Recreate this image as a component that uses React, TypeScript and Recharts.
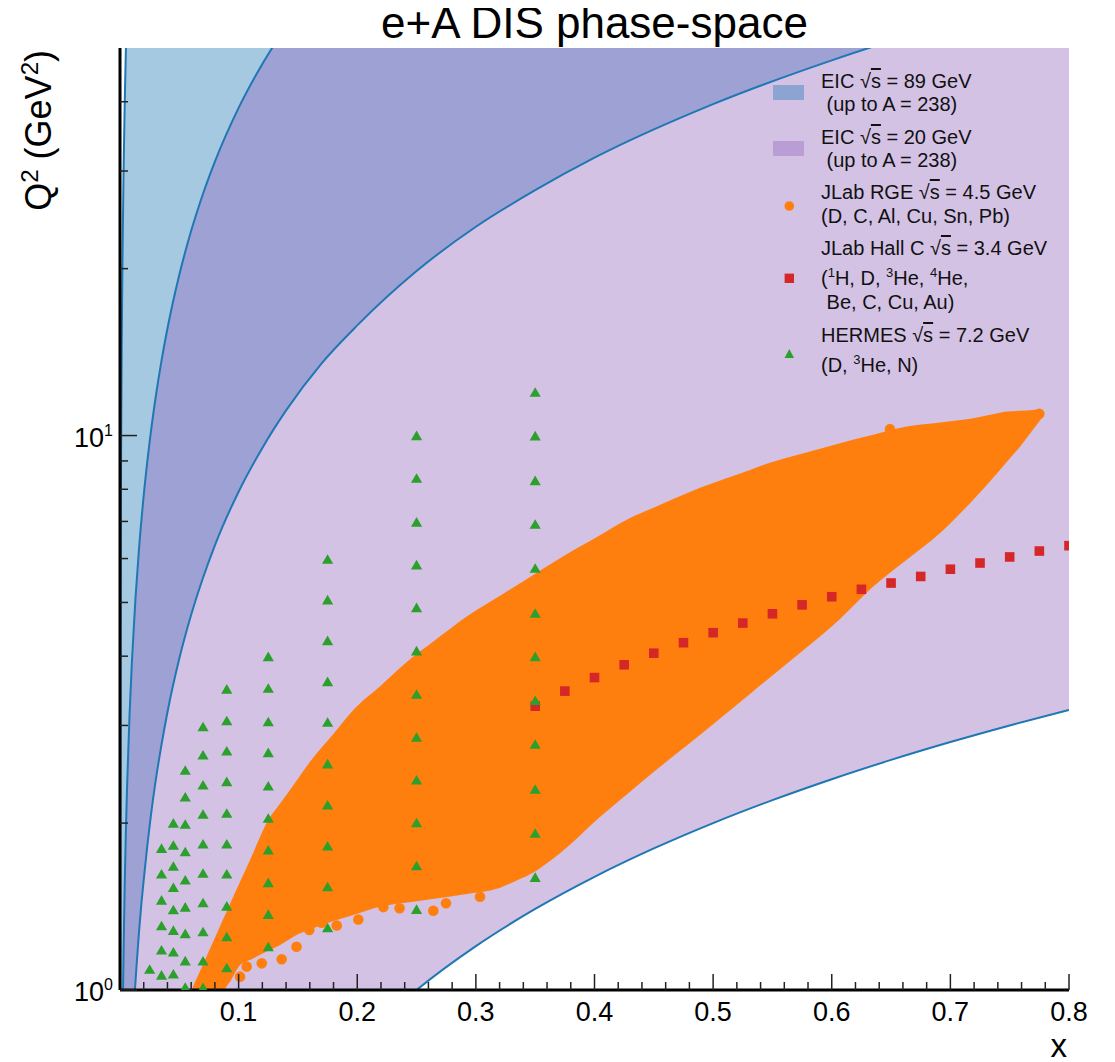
import React from 'react';
import { ComposedChart, Area, Scatter, XAxis, YAxis, Legend } from 'recharts';

const FONT = '"Liberation Sans", Arial, Helvetica, sans-serif';
const W = 1107;
const H = 1054;

// ---------- axis ticks ----------
const X_TICKS = [0.02, 0.04, 0.06, 0.08, 0.1, 0.12, 0.14, 0.16, 0.18, 0.2, 0.22, 0.24, 0.26, 0.28, 0.3, 0.32, 0.34, 0.36, 0.38, 0.4, 0.42, 0.44, 0.46, 0.48, 0.5, 0.52, 0.54, 0.56, 0.58, 0.6, 0.62, 0.64, 0.66, 0.68, 0.7, 0.72, 0.74, 0.76, 0.78, 0.8];
const X_LABELS = ['0.1', '0.2', '0.3', '0.4', '0.5', '0.6', '0.7', '0.8'];
const Y_TICKS = [1, 2, 3, 4, 5, 6, 7, 8, 9, 10, 20, 30, 40];
const Y_MAJOR = [1, 10];
const Y_EXP = ['0', '1'];

// ---------- EIC sqrt(s)=89 GeV region (x, lower Q2, upper Q2) ----------
const EIC89_X = [0.0001, 0.0002, 0.0005, 0.001, 0.0015, 0.002, 0.003, 0.004, 0.005, 0.006, 0.008, 0.0126, 0.014, 0.016, 0.018, 0.02, 0.023, 0.026, 0.03, 0.035, 0.04, 0.05, 0.06, 0.07, 0.08, 0.1, 0.12, 0.14, 0.17, 0.2, 0.25, 0.3, 0.35, 0.4, 0.5, 0.6, 0.65, 0.7, 0.8];
const EIC89_LO = [0.0079, 0.0158, 0.0396, 0.0792, 0.119, 0.158, 0.238, 0.317, 0.396, 0.475, 0.634, 1.0, 1.11, 1.27, 1.43, 1.58, 1.82, 2.06, 2.38, 2.77, 3.17, 3.96, 4.75, 5.54, 6.34, 7.92, 9.5, 11.1, 13.5, 15.8, 19.8, 23.8, 27.7, 31.7, 39.6, 47.5, 51.5, 55.4, 63.4];
const EIC89_HI = [1.0, 2.0, 5.0, 10, 15, 20, 30, 40, 50, 60, 80, 126, 140, 160, 180, 200, 230, 260, 300, 350, 400, 500, 600, 700, 800, 1000, 1200, 1400, 1700, 2000, 2500, 3000, 3500, 4000, 5000, 6000, 6500, 7000, 8000];

// ---------- EIC sqrt(s)=20 GeV region ----------
const EIC20_X = [0.0025, 0.003, 0.004, 0.005, 0.006, 0.008, 0.01, 0.013, 0.016, 0.02, 0.025, 0.03, 0.035, 0.04, 0.05, 0.06, 0.07, 0.08, 0.1, 0.115, 0.13, 0.15, 0.2, 0.25, 0.3, 0.35, 0.4, 0.45, 0.5, 0.55, 0.6, 0.65, 0.7, 0.75, 0.8];
const EIC20_LO = [0.01, 0.012, 0.016, 0.02, 0.024, 0.032, 0.04, 0.052, 0.064, 0.08, 0.1, 0.12, 0.14, 0.16, 0.2, 0.24, 0.28, 0.32, 0.4, 0.46, 0.52, 0.6, 0.8, 1.0, 1.2, 1.4, 1.6, 1.8, 2.0, 2.2, 2.4, 2.6, 2.8, 3.0, 3.2];
const EIC20_HI = [0.975, 1.17, 1.56, 1.95, 2.34, 3.12, 3.9, 5.07, 6.24, 7.8, 9.75, 11.7, 13.65, 15.6, 19.5, 23.4, 27.3, 31.2, 39, 44.85, 50.7, 58.5, 78, 97.5, 117, 136.5, 156, 175.5, 195, 214.5, 234, 253.5, 273, 292.5, 312];

// ---------- JLab RGE coverage (outline of the dense point cloud) ----------
const RGE_X = [0.058, 0.0604, 0.07, 0.08, 0.086, 0.0942, 0.1012, 0.11, 0.125, 0.135, 0.15, 0.16, 0.18, 0.1967, 0.22, 0.2473, 0.265, 0.2923, 0.32, 0.3372, 0.343, 0.3709, 0.4046, 0.43, 0.4468, 0.4889, 0.5311, 0.5479, 0.5732, 0.607, 0.635, 0.6632, 0.6913, 0.7193, 0.7418, 0.7475, 0.7587, 0.7696, 0.7728, 0.7783];
const RGE_LO = [0.9, 0.9, 0.9, 0.9, 0.98, 1.048, 1.109, 1.134, 1.177, 1.206, 1.26, 1.286, 1.332, 1.366, 1.415, 1.443, 1.46, 1.49, 1.528, 1.586, 1.606, 1.765, 2.051, 2.279, 2.443, 2.884, 3.42, 3.662, 4.055, 4.67, 5.34, 5.97, 6.67, 7.66, 8.67, 8.96, 9.55, 10.24, 10.46, 10.85];
const RGE_HI = [0.97, 1.0, 1.112, 1.242, 1.327, 1.453, 1.567, 1.723, 2.026, 2.17, 2.405, 2.578, 2.898, 3.2, 3.543, 3.994, 4.264, 4.716, 5.136, 5.416, 5.514, 6.009, 6.61, 7.1, 7.36, 8.05, 8.67, 8.93, 9.25, 9.69, 10.03, 10.38, 10.56, 10.75, 10.99, 11.05, 11.08, 11.12, 11.13, 10.85];
// isolated RGE points at the edges of the cloud
const RGE_DOT_X = [0.0894, 0.1012, 0.1068, 0.1195, 0.1363, 0.1488, 0.1596, 0.17, 0.1827, 0.2009, 0.222, 0.2357, 0.2641, 0.2748, 0.3035, 0.6491, 0.775];
const RGE_DOT_Q2 = [1.05, 1.057, 1.102, 1.117, 1.136, 1.197, 1.283, 1.322, 1.307, 1.34, 1.411, 1.404, 1.39, 1.434, 1.473, 10.27, 10.95];

// ---------- JLab Hall C ----------
const HALLC_X = [0.35, 0.375, 0.4, 0.425, 0.45, 0.475, 0.5, 0.525, 0.55, 0.575, 0.6, 0.625, 0.65, 0.675, 0.7, 0.725, 0.75, 0.775, 0.8];
const HALLC_Q2 = [3.25, 3.46, 3.66, 3.86, 4.05, 4.23, 4.41, 4.59, 4.77, 4.95, 5.12, 5.28, 5.42, 5.57, 5.74, 5.89, 6.04, 6.19, 6.33];

// ---------- HERMES ----------
const HERMES_X = [0.025, 0.035, 0.045, 0.055, 0.07, 0.09, 0.125, 0.175, 0.25, 0.35];
const HERMES_Q2 = [
  [1.09],
  [1.801, 1.619, 1.453, 1.306, 1.181, 1.064],
  [2.0, 1.824, 1.672, 1.531, 1.396, 1.281, 1.171, 1.069],
  [2.491, 2.23, 1.991, 1.776, 1.579, 1.411, 1.264, 1.129, 1.012],
  [2.985, 2.655, 2.343, 2.075, 1.834, 1.624, 1.437, 1.274, 1.128, 1.01],
  [3.49, 3.06, 2.699, 2.376, 2.084, 1.834, 1.619, 1.417, 1.248, 1.097],
  [3.994, 3.502, 3.048, 2.68, 2.334, 2.041, 1.789, 1.562, 1.369, 1.197],
  [5.984, 5.054, 4.268, 3.599, 3.04, 2.558, 2.157, 1.819, 1.536, 1.295],
  [10.0, 8.378, 6.98, 5.846, 4.895, 4.09, 3.416, 2.857, 2.392, 2.003, 1.676, 1.398],
  [11.97, 9.99, 8.295, 6.92, 5.766, 4.782, 3.994, 3.329, 2.776, 2.302, 1.918, 1.597],
];

// ---------- derived tables ----------
const band = (xs: number[], lo: number[], hi: number[]) => xs.map((x, i) => ({ x, band: [lo[i], hi[i]] }));
const eic89Data = band(EIC89_X, EIC89_LO, EIC89_HI);
const eic20Data = band(EIC20_X, EIC20_LO, EIC20_HI);
const rgeData = band(RGE_X, RGE_LO, RGE_HI);
const rgeDots = RGE_DOT_X.map((x, i) => ({ x, y: RGE_DOT_Q2[i] }));
const hallCData = HALLC_X.map((x, i) => ({ x, y: HALLC_Q2[i] }));
const hermesData = HERMES_X.flatMap((x, i) => HERMES_Q2[i].map((q) => ({ x, y: q })));

const C_BLUE = '#1f77b4';
const C_PURPLE = '#9467bd';
const C_ORANGE = '#ff7f0e';
const C_RED = '#d62728';
const C_GREEN = '#2ca02c';
const TICK_COLOR = '#222';

const isMajorX = (v: number) => Math.abs(v * 10 - Math.round(v * 10)) < 1e-6;

const BottomTick = (props: any) => {
  const { x, y, payload } = props;
  const v = payload.value;
  const major = isMajorX(v);
  const idx = Math.round(v * 10) - 1;
  return (
    <g>
      <line x1={x} y1={y} x2={x} y2={y - (major ? 16 : 8)} stroke={TICK_COLOR} strokeWidth={1.5} />
      {major && (
        <text x={x} y={y + 31} textAnchor="middle" fontSize={27} fontFamily={FONT} fill="#000">
          {X_LABELS[idx]}
        </text>
      )}
    </g>
  );
};

const TopTick = (props: any) => {
  const { x, y, payload } = props;
  const major = isMajorX(payload.value);
  return <line x1={x} y1={y} x2={x} y2={y + (major ? 16 : 8)} stroke={TICK_COLOR} strokeWidth={1.5} />;
};

const LeftTick = (props: any) => {
  const { x, y, payload } = props;
  const v = payload.value;
  const mi = Y_MAJOR.indexOf(v);
  const major = mi >= 0;
  return (
    <g>
      <line x1={x} y1={y} x2={x + (major ? 17 : 8)} y2={y} stroke={TICK_COLOR} strokeWidth={1.5} />
      {major && (
        <text x={x - 7} y={y + 11} textAnchor="end" fontSize={27} fontFamily={FONT} fill="#000">
          <tspan>10</tspan>
          <tspan fontSize={16} dy={-11}>{Y_EXP[mi]}</tspan>
        </text>
      )}
    </g>
  );
};

const RightTick = (props: any) => {
  const { x, y, payload } = props;
  const major = Y_MAJOR.indexOf(payload.value) >= 0;
  return <line x1={x} y1={y} x2={x - (major ? 17 : 8)} y2={y} stroke={TICK_COLOR} strokeWidth={1.5} />;
};

const OrangeDot = (p: any) => <circle cx={p.cx} cy={p.cy} r={5.3} fill={C_ORANGE} />;
const RedSquare = (p: any) => <rect x={p.cx - 4.8} y={p.cy - 4.8} width={9.6} height={9.6} fill={C_RED} />;
const GreenTri = (p: any) => (
  <polygon points={`${p.cx},${p.cy - 5} ${p.cx - 5.6},${p.cy + 4.6} ${p.cx + 5.6},${p.cy + 4.6}`} fill={C_GREEN} />
);

// ---------- legend (HTML, absolutely placed inside the plot) ----------
const LFS = 20;
const Row = ({ x, base, children }: { x: number; base: number; children: React.ReactNode }) => (
  <div
    style={{
      position: 'absolute',
      left: x,
      top: base - 16.9,
      fontSize: LFS,
      lineHeight: '20px',
      fontFamily: FONT,
      color: '#111',
      whiteSpace: 'pre',
    }}
  >
    {children}
  </div>
);
const Sup = ({ c }: { c: string }) => (
  <span style={{ fontSize: 13, position: 'relative', top: -8 }}>{c}</span>
);
const SqrtS = () => (
  <span>
    √<span style={{ textDecoration: 'overline' }}>s</span>
  </span>
);

const LegendBox = () => (
  <div style={{ position: 'relative', width: 330, height: 345 }}>
    <svg width={330} height={345} style={{ position: 'absolute', left: 0, top: 0 }}>
      <rect x={13} y={35} width={31} height={15} fill={C_BLUE} fillOpacity={0.4} />
      <rect x={13} y={91} width={31} height={15} fill={C_PURPLE} fillOpacity={0.4} />
      <circle cx={29.3} cy={156} r={4.8} fill={C_ORANGE} />
      <rect x={24.6} y={223.6} width={9.4} height={9.4} fill={C_RED} />
      <polygon points="29.3,299 24.5,308 34.1,308" fill={C_GREEN} />
    </svg>
    <Row x={61} base={38.3}>EIC <SqrtS /> = 89 GeV</Row>
    <Row x={61} base={61}> (up to A = 238)</Row>
    <Row x={61} base={94.3}>EIC <SqrtS /> = 20 GeV</Row>
    <Row x={61} base={116.7}> (up to A = 238)</Row>
    <Row x={61} base={149.3}>JLab RGE <SqrtS /> = 4.5 GeV</Row>
    <Row x={61} base={173.3}>(D, C, Al, Cu, Sn, Pb)</Row>
    <Row x={61} base={205}>JLab Hall C <SqrtS /> = 3.4 GeV</Row>
    <Row x={61} base={235}>
      (<Sup c="1" />H, D, <Sup c="3" />He, <Sup c="4" />He,
    </Row>
    <Row x={61} base={259.3}> Be, C, Cu, Au)</Row>
    <Row x={61} base={292.3}>HERMES <SqrtS /> = 7.2 GeV</Row>
    <Row x={61} base={321.7}>
      (D, <Sup c="3" />He, N)
    </Row>
  </div>
);

export default function App() {
  return (
    <div style={{ position: 'relative', width: W, height: H, fontFamily: FONT }}>
      <ComposedChart width={W} height={H} margin={{ top: 40, right: 46, bottom: 0, left: 0 }}>
        <Area data={eic89Data} dataKey="band" name="EIC 89" type="monotone" fill={C_BLUE} fillOpacity={0.4} stroke="none" isAnimationActive={false} />
        <Area data={eic20Data} dataKey="band" name="EIC 20" type="monotone" fill={C_PURPLE} fillOpacity={0.4} stroke="none" isAnimationActive={false} />
        <Area data={eic89Data} dataKey="band" name="EIC 89 edge" type="monotone" fill="none" stroke={C_BLUE} strokeWidth={2} isAnimationActive={false} />
        <Area data={eic20Data} dataKey="band" name="EIC 20 edge" type="monotone" fill="none" stroke={C_BLUE} strokeWidth={2} isAnimationActive={false} />
        <Area data={rgeData} dataKey="band" name="JLab RGE" type="monotone" fill={C_ORANGE} fillOpacity={1} stroke="none" isAnimationActive={false} />
        <Scatter data={rgeDots} name="JLab RGE points" shape={OrangeDot} isAnimationActive={false} />
        <Scatter data={hallCData} name="JLab Hall C" shape={RedSquare} isAnimationActive={false} />
        <Scatter data={hermesData} name="HERMES" shape={GreenTri} isAnimationActive={false} />

        <XAxis
          dataKey="x"
          type="number"
          domain={[0, 0.8]}
          allowDataOverflow
          ticks={X_TICKS}
          interval={0}
          tick={BottomTick}
          tickSize={0}
          tickMargin={0}
          tickLine={false}
          height={72}
          axisLine={{ stroke: '#000', strokeWidth: 3 }}
        />
        <XAxis
          xAxisId="top"
          orientation="top"
          dataKey="x"
          type="number"
          domain={[0, 0.8]}
          allowDataOverflow
          ticks={X_TICKS}
          interval={0}
          tick={TopTick}
          tickSize={0}
          tickMargin={0}
          tickLine={false}
          height={0}
          axisLine={{ stroke: '#000', strokeWidth: 3 }}
        />
        <YAxis
          dataKey="y"
          type="number"
          scale="log"
          domain={[1, 50]}
          allowDataOverflow
          ticks={Y_TICKS}
          interval={0}
          tick={LeftTick}
          tickSize={0}
          tickMargin={0}
          tickLine={false}
          width={112}
          axisLine={{ stroke: '#000', strokeWidth: 3 }}
        />
        <YAxis
          yAxisId="right"
          orientation="right"
          dataKey="y"
          type="number"
          scale="log"
          domain={[1, 50]}
          allowDataOverflow
          ticks={Y_TICKS}
          interval={0}
          tick={RightTick}
          tickSize={0}
          tickMargin={0}
          tickLine={false}
          width={0}
          axisLine={{ stroke: '#000', strokeWidth: 3 }}
        />
        <Legend
          layout="vertical"
          align="center"
          verticalAlign="middle"
          content={() => <LegendBox />}
          wrapperStyle={{ left: 752, top: 42, width: 330, height: 345 }}
        />
      </ComposedChart>
      <svg width={W} height={H} style={{ position: 'absolute', left: 0, top: 0, pointerEvents: 'none', overflow: 'visible' }}>
        <text x={586.5} y={30} textAnchor="middle" fontSize={44} fontFamily={FONT} fill="#000">
          e+A DIS phase-space
        </text>
        <text transform="translate(43,42) rotate(-90)" textAnchor="end" fontSize={36} fontFamily={FONT} fill="#000">
          <tspan>Q</tspan>
          <tspan fontSize={24} dy={-13}>2</tspan>
          <tspan dy={13}> (GeV</tspan>
          <tspan fontSize={24} dy={-13}>2</tspan>
          <tspan dy={13}>)</tspan>
        </text>
        <text x={1059} y={1049} textAnchor="end" fontSize={33} fontFamily={FONT} fill="#000">
          x
        </text>
      </svg>
    </div>
  );
}
